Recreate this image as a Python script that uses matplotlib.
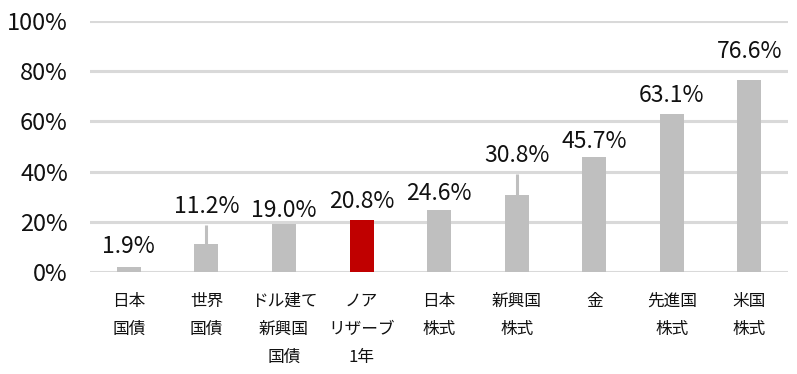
import numpy as np
import matplotlib
matplotlib.use("Agg")
import matplotlib.pyplot as plt

plt.rcParams["font.family"] = ["Noto Sans CJK JP", "DejaVu Sans"]

CATEGORIES = ["日本\n国債", "世界\n国債", "ドル建て\n新興国\n国債", "ノア\nリザーブ\n1年",
              "日本\n株式", "新興国\n株式", "金", "先進国\n株式", "米国\n株式"]
VALUES = [1.9, 11.2, 19.0, 20.8, 24.6, 30.8, 45.7, 63.1, 76.6]
HIGHLIGHT = "ノア\nリザーブ\n1年"

GRAY = "#bfbfbf"
RED = "#c00000"
GRID = "#d9d9d9"

# label baseline offset above bar top (pixels) and whether a leader line is drawn
LABEL_OFFSETS = [14, 31, 7, 12, 10, 33, 9, 12, 22]
LEADER = [False, True, False, False, False, True, False, False, False]

fig = plt.figure(figsize=(7.97, 3.74), dpi=100)
ax = fig.add_axes([0.113, 0.273, 0.876, 0.671])

x = np.arange(len(CATEGORIES))
vals = np.array(VALUES) / 100
colors = [RED if c == HIGHLIGHT else GRAY for c in CATEGORIES]

ax.set_axisbelow(True)
ax.yaxis.grid(True, color=GRID, linewidth=2.2)
ax.bar(x, vals, width=0.31, color=colors, zorder=2)

for i, (v, off, lead) in enumerate(zip(vals, LABEL_OFFSETS, LEADER)):
    ax.annotate(f"{v * 100:.1f}%", xy=(i, v), xytext=(0, off),
                textcoords="offset pixels", ha="center", va="baseline",
                fontsize=16.5, color="#111111")
    if lead:
        top = v + (off - 12) / 251
        ax.plot([i, i], [v, top], color=GRAY, linewidth=2.2, zorder=1,
                solid_capstyle="butt")

ax.set_xlim(-0.5, len(CATEGORIES) - 0.5)
ax.set_ylim(0, 1.0)
ax.set_yticks(np.arange(0, 1.01, 0.2))
ax.set_yticklabels([f"{int(t * 100)}%" for t in np.arange(0, 1.01, 0.2)], fontsize=17)
ax.set_xticks(x)
ax.set_xticklabels(CATEGORIES, fontsize=12, linespacing=1.85, va="top")
ax.tick_params(axis="both", length=0, colors="#111111")
ax.tick_params(axis="x", pad=15)
ax.tick_params(axis="y", pad=16)
for s in ax.spines.values():
    s.set_visible(False)

fig.savefig("out.png", dpi=100)
